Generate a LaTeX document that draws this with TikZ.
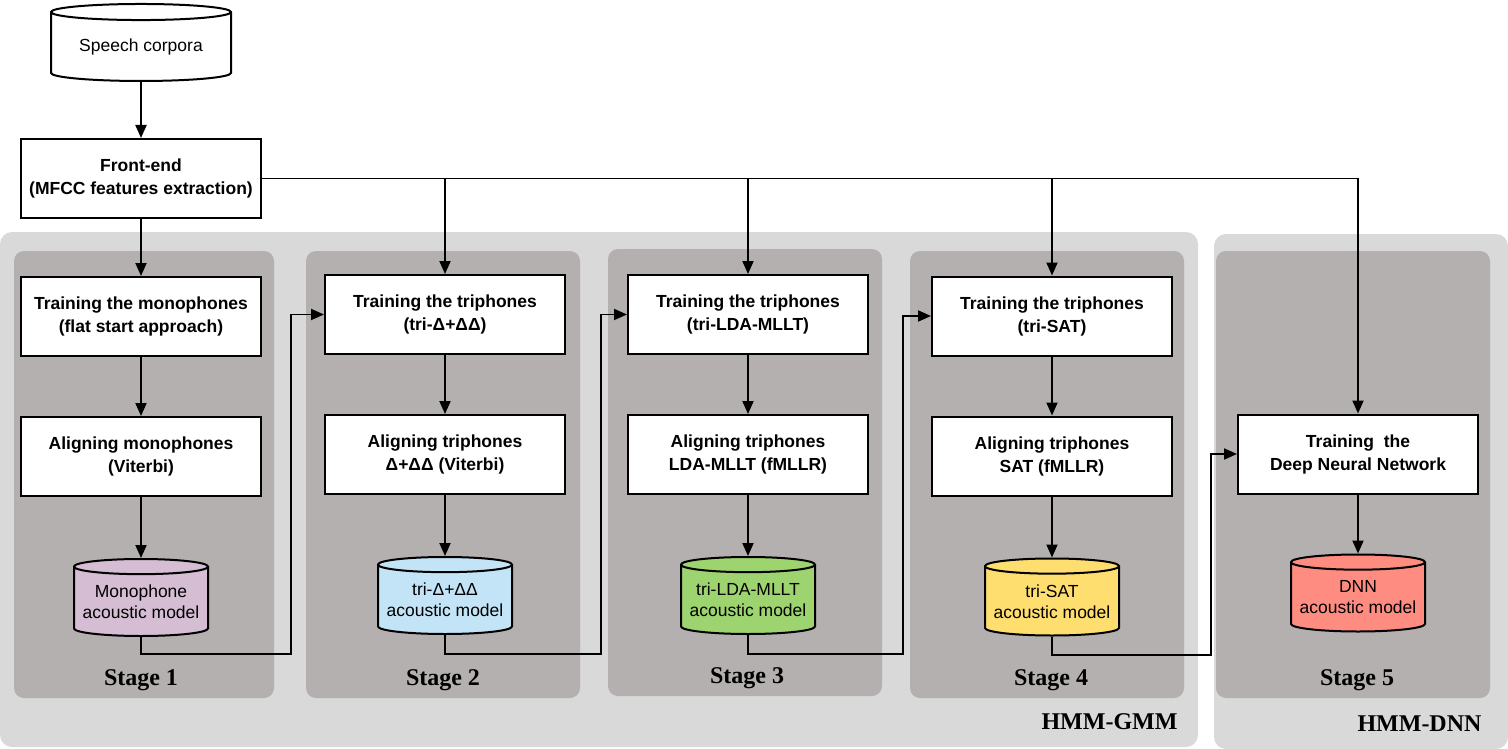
\documentclass[tikz,border=0pt]{standalone}
\usepackage{fontspec}
\setmainfont{Liberation Sans}
\newfontfamily\stagefont{Liberation Serif}
\usetikzlibrary{positioning,shapes.geometric,arrows.meta}
\definecolor{outer}{HTML}{D9D9D9}
\definecolor{panel}{HTML}{B4B0AF}
\definecolor{mono}{HTML}{D5BDD4}
\definecolor{tridd}{HTML}{C3E4F6}
\definecolor{trilda}{HTML}{9ED46F}
\definecolor{trisat}{HTML}{FFDE70}
\definecolor{dnn}{HTML}{FF8C80}
\begin{document}
\begin{tikzpicture}[x=1pt, y=-1pt, node distance={59pt},
	box/.style = {draw, line width=2pt, fill=white, minimum width=240pt, minimum height=79pt, align=center, font=\fontsize{17.5}{23}\selectfont\bfseries},
	db/.style = {draw, line width=2pt, cylinder, shape border rotate=90, aspect=0.13, minimum width=134pt, minimum height=77pt, align=center, inner sep=0pt, font=\fontsize{17.5}{21}\selectfont},
	arr/.style = {line width=1.9pt, -{Triangle[width=11pt,length=13pt]}},
	stage/.style = {fill=panel, rounded corners=10pt},
	group/.style = {fill=outer, rounded corners=12pt},
	lbl/.style = {font=\stagefont\fontsize{24}{24}\selectfont\bfseries}]
			\useasboundingbox (0,0) rectangle (1508,749);
			% backgrounds
			\fill[group] (0,232) rectangle (1198,747);
			\fill[group] (1214,234) rectangle (1508,749);
			\fill[stage] (14,251) rectangle (274,698);
			\fill[stage] (306,251) rectangle (580,698);
			\fill[stage] (608,249) rectangle (882,696);
			\fill[stage] (910,251) rectangle (1184,698);
			\fill[stage] (1216,251) rectangle (1490,698);
			% input
			\node[db, fill=white, minimum width=180pt] (sc) at (141,47) {Speech corpora};
			\node[box] (fe) at (141,178.5) {Front-end\\(MFCC features extraction)};
			% stage 1
			\node[box] (t1) at (141,316.5) {Training the monophones\\(flat start approach)};
			\node[box] (a1) [below=of t1] {Aligning monophones\\(Viterbi)};
			\node[db, fill=mono] (m1) [below=61pt of a1] {Monophone\\acoustic model};
			\node[lbl] (s1) at (141,680) {Stage 1};
			% stage 2
			\node[box] (t2) at (445,314.5) {Training the triphones\\(tri-Δ+ΔΔ)};
			\node[box] (a2) [below=of t2] {Aligning triphones\\Δ+ΔΔ (Viterbi)};
			\node[db, fill=tridd] (m2) [below=61pt of a2] {tri-Δ+ΔΔ\\acoustic model};
			\node[lbl] (s2) at (443,680) {Stage 2};
			% stage 3
			\node[box] (t3) at (748,314.5) {Training the triphones\\(tri-LDA-MLLT)};
			\node[box] (a3) [below=of t3] {Aligning triphones\\LDA-MLLT (fMLLR)};
			\node[db, fill=trilda] (m3) [below=61pt of a3] {tri-LDA-MLLT\\acoustic model};
			\node[lbl] (s3) at (747,678) {Stage 3};
			% stage 4
			\node[box] (t4) at (1052,316) {Training the triphones\\(tri-SAT)};
			\node[box] (a4) [below=of t4] {Aligning triphones\\SAT (fMLLR)};
			\node[db, fill=trisat] (m4) [below=61pt of a4] {tri-SAT\\acoustic model};
			\node[lbl] (s4) at (1051,680) {Stage 4};
			% stage 5
			\node[box] (d5) at (1358,454) {Training\ \ the\\Deep Neural Network};
			\node[db, fill=dnn] (m5) [below=of d5] {DNN\\acoustic model};
			\node[lbl] (s5) at (1357,680) {Stage 5};
			\node[lbl, anchor=east] (g1) at (1181,722) {HMM-GMM};
			\node[lbl, anchor=east] (g2) at (1485,724) {HMM-DNN};
			% links
			\coordinate (k1) at (291,654);
			\coordinate (k2) at (601,654);
			\coordinate (k3) at (903,654);
			\coordinate (k4) at (1211,655);
			\draw[arr] (sc) -- (fe);
			\draw[arr] (fe) -- (t1);
			\draw[arr] (fe.east) -| (d5);
			\draw[arr] (fe.east -| t2.north) -- (t2);
			\draw[arr] (fe.east -| t3.north) -- (t3);
			\draw[arr] (fe.east -| t4.north) -- (t4);
			\draw[arr] (t1) -- (a1);
			\draw[arr] (a1) -- (m1);
			\draw[arr] (t2) -- (a2);
			\draw[arr] (a2) -- (m2);
			\draw[arr] (t3) -- (a3);
			\draw[arr] (a3) -- (m3);
			\draw[arr] (t4) -- (a4);
			\draw[arr] (a4) -- (m4);
			\draw[arr] (d5) -- (m5);
			\draw[arr] (m1) |- (k1) |- (t2);
			\draw[arr] (m2) |- (k2) |- (t3);
			\draw[arr] (m3) |- (k3) |- (t4);
			\draw[arr] (m4) |- (k4) |- (d5);
		\end{tikzpicture}
\end{document}
